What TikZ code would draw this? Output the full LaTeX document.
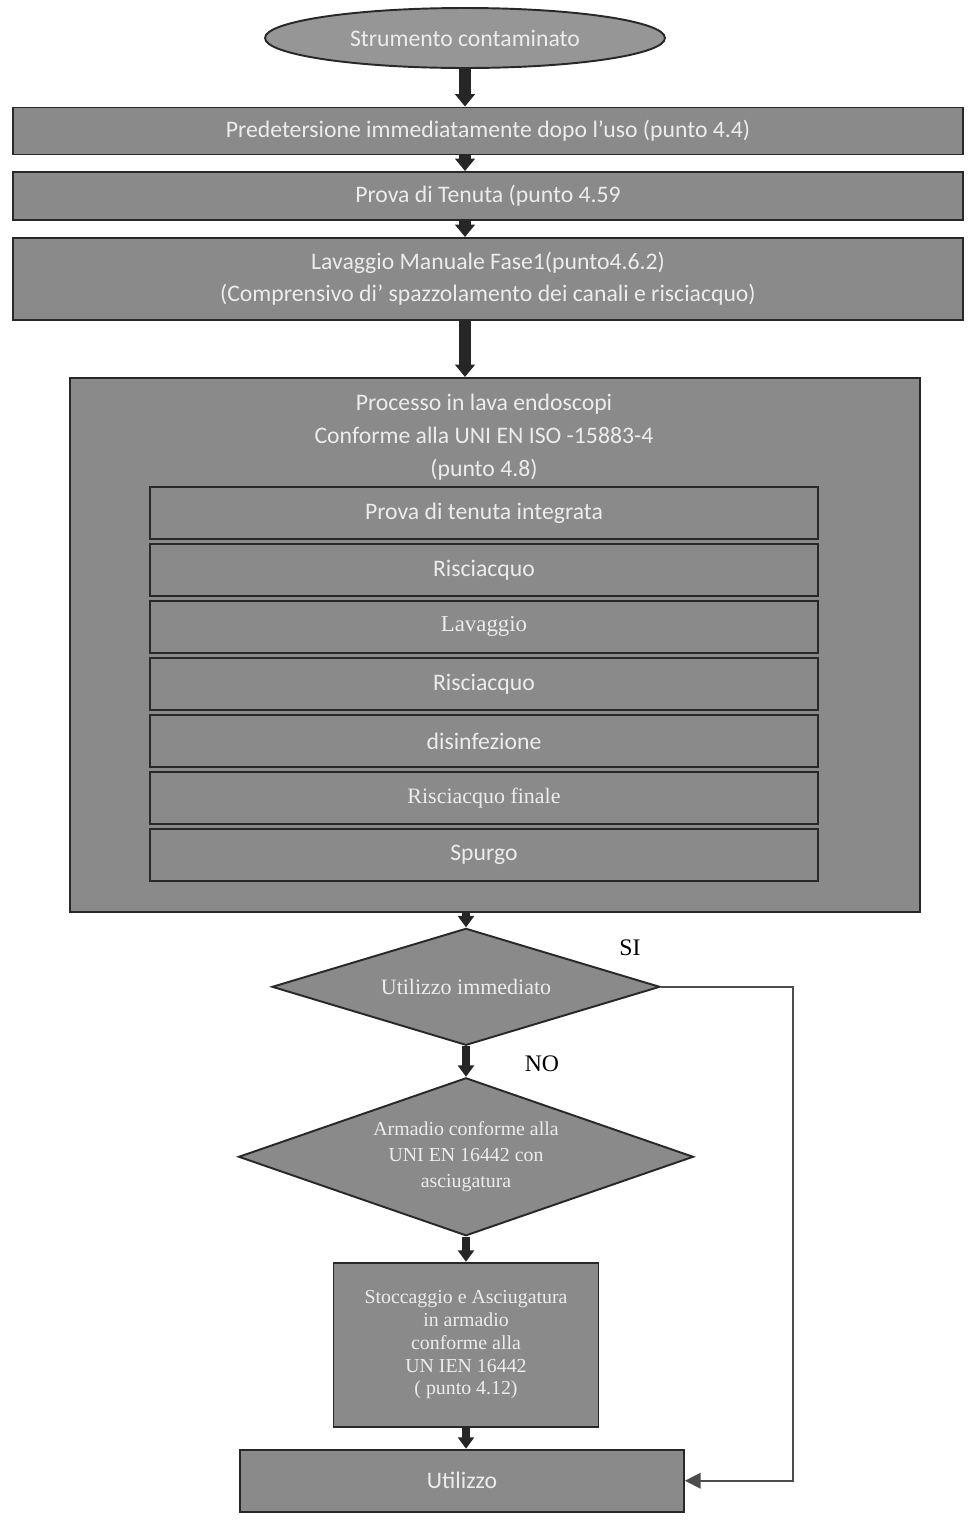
\documentclass[tikz,border=0pt]{standalone}
\usepackage{fontspec}
\setmainfont{Liberation Serif}
\newfontfamily\carlito{Carlito}
\usepackage{tikz}
\usetikzlibrary{shapes,arrows,arrows.meta}
\definecolor{boxgray}{RGB}{138,138,138}
\definecolor{txtgray}{RGB}{236,236,236}
\definecolor{linedark}{RGB}{40,40,40}
\tikzstyle{stepbox} = [draw=linedark, fill=boxgray, rectangle, line width=1.1pt, text=txtgray, align=center, inner sep=0pt, font=\carlito\fontsize{13.5}{18.5}\selectfont]
\tikzstyle{startstop} = [stepbox, ellipse, fill=boxgray!90, minimum width=8cm, minimum height=1.2cm]
\tikzstyle{wide} = [stepbox, minimum width=19cm]
\tikzstyle{phase} = [stepbox, line width=0.8pt, minimum width=13.36cm, minimum height=1.04cm]
\tikzstyle{serifphase} = [phase, font=\rmfamily\fontsize{13}{15}\selectfont]
\tikzstyle{decision} = [stepbox, diamond, font=\rmfamily\fontsize{12.5}{15}\selectfont]
\tikzstyle{flow} = [draw=black!85, line width=6.5pt, -{Triangle[length=7pt,width=11pt]}]
\tikzstyle{thinflow} = [draw=black!85, line width=4.5pt, -{Triangle[length=6.5pt,width=9pt]}]
\tikzstyle{yesline} = [draw=black!70, line width=0.9pt, -{Triangle[length=9pt,width=9pt]}]
\tikzstyle{lbl} = [font=\rmfamily\fontsize{13.5}{15}\selectfont, text=black, inner sep=0pt]

\begin{document}
\begin{tikzpicture}[x=0.02cm, y=-0.02cm]
		\useasboundingbox (0,0) rectangle (969,1529);
		\node [startstop] (start) at (465,38) {Strumento contaminato};
		\node [wide, minimum height=0.94cm, below of = start, node distance=1.86cm, xshift=0.46cm] (pre) {Predetersione immediatamente dopo l’uso (punto 4.4)};
		\node [wide, minimum height=0.96cm, below of = pre, node distance=1.3cm] (tenuta) {Prova di Tenuta (punto 4.59};
		\node [wide, minimum height=1.64cm, below of = tenuta, node distance=1.66cm] (manuale) {Lavaggio Manuale Fase1(punto4.6.2)\\(Comprensivo di’ spazzolamento dei canali e risciacquo)};
		
		% lava endoscopi
		\node [stepbox, minimum width=17cm, minimum height=10.68cm, below of = manuale, node distance=7.32cm, xshift=0.14cm] (lava) {};
		\node [text=txtgray, align=center, font=\carlito\fontsize{13.5}{18.7}\selectfont, above of = lava, node distance=4.16cm, xshift=-0.22cm] (ptitle) {Processo in lava endoscopi\\Conforme alla UNI EN ISO -15883-4\\(punto 4.8)};
			\node [phase, above of = lava, node distance=2.64cm, xshift=-0.22cm] (s1) {Prova di tenuta integrata};
			\node [phase, below of = s1, node distance=1.14cm] (s2) {Risciacquo};
			\node [serifphase, below of = s2, node distance=1.14cm] (s3) {Lavaggio};
			\node [phase, below of = s3, node distance=1.14cm] (s4) {Risciacquo};
			\node [phase, below of = s4, node distance=1.14cm] (s5) {disinfezione};
			\node [serifphase, font=\rmfamily\fontsize{12.5}{15}\selectfont, below of = s5, node distance=1.14cm] (s6) {Risciacquo finale};
			\node [phase, below of = s6, node distance=1.14cm] (s7) {Spurgo};
		
		% decisioni
		\node [decision, aspect=3.3, minimum width=7.76cm, minimum height=2.34cm, below of = lava, node distance=6.84cm, xshift=-0.58cm] (subito) {Utilizzo immediato};
		\node [decision, aspect=2.88, font=\rmfamily\fontsize{11.3}{15}\selectfont, minimum width=9.1cm, minimum height=3.16cm, below of = subito, node distance=3.4cm] (armadio) {Armadio conforme alla\\UNI EN 16442 con\\asciugatura};
		\node [stepbox, font=\rmfamily\fontsize{11.3}{13}\selectfont, minimum width=5.3cm, minimum height=3.28cm, below of = armadio, node distance=3.76cm] (stocc) {Stoccaggio e Asciugatura\\in armadio\\conforme alla\\UN IEN 16442\\( punto 4.12)};
		\node [stepbox, minimum width=8.88cm, minimum height=1.24cm, below of = stocc, node distance=2.72cm, xshift=-0.08cm] (uso) {Utilizzo};
		
		\node [lbl] (lsi) at ([xshift=-0.62cm, yshift=0.78cm]subito.east) {SI};
		\node [lbl] (lno) at ([xshift=1.52cm, yshift=-0.35cm]subito.south) {NO};
		\coordinate (sicorner) at ([xshift=2.64cm]subito.east);
		
		\draw [flow] (start.south) -- (start.south |- pre.north);
		\draw [flow] (pre.south -| start) -- (tenuta.north -| start);
		\draw [flow] (tenuta.south -| start) -- (manuale.north -| start);
		\draw [flow] (manuale.south -| start) -- (lava.north -| start);
		\draw [thinflow] (lava.south -| subito) -- (subito.north);
		\draw [thinflow] (subito.south) -- (armadio.north);
		\draw [thinflow] (armadio.south) -- (stocc.north);
		\draw [thinflow] (stocc.south) -- (stocc.south |- uso.north);
		\draw [yesline] (subito.east) -- (sicorner) |- (uso.east);
		
\end{tikzpicture}
\end{document}
